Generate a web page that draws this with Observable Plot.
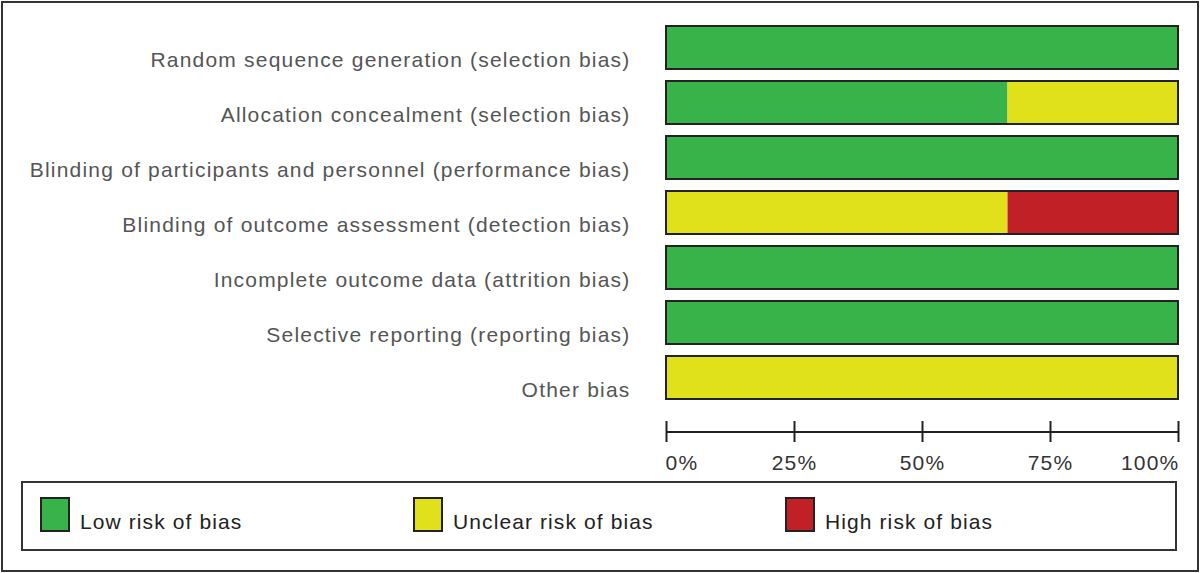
<!DOCTYPE html>
<html>
<head>
<meta charset="utf-8">
<script src="https://cdn.jsdelivr.net/npm/d3@7"></script>
<script src="https://cdn.jsdelivr.net/npm/@observablehq/plot@0.6"></script>
<style>
  html, body { margin: 0; padding: 0; background: #fff; }
  #frame { position: absolute; left: 1px; top: 1px; width: 1194px; height: 567px; border: 2px solid #333; }
  #chart, #axis { position: absolute; left: 0; top: 0; }
  #legend { position: absolute; left: 21px; top: 481px; width: 1152px; height: 66px; border: 2px solid #333; font-family: "Liberation Sans", Arial, sans-serif; font-size: 21px; letter-spacing: 1.1px; color: #222; }
  .sw { position: absolute; top: 14px; width: 26px; height: 31px; border: 2px solid #222; }
  .lt { position: absolute; top: 28px; line-height: 21px; white-space: nowrap; }
</style>
</head>
<body>
<div id="frame"></div>
<div id="chart"></div>
<div id="axis"></div>
<div id="legend"></div>
<script>
const categories = [
  "Random sequence generation (selection bias)",
  "Allocation concealment (selection bias)",
  "Blinding of participants and personnel (performance bias)",
  "Blinding of outcome assessment (detection bias)",
  "Incomplete outcome data (attrition bias)",
  "Selective reporting (reporting bias)",
  "Other bias"
];
const lowRisk     = [100, 66.7, 100, 0,    100, 100, 0];
const unclearRisk = [0,   33.3, 0,   66.7, 0,   0,   100];
const highRisk    = [0,   0,    0,   33.3, 0,   0,   0];
const riskLevels = ["Low risk of bias", "Unclear risk of bias", "High risk of bias"];
const riskColors = ["#37b34a", "#e1e11b", "#c12027"];
const tickValues = [0, 25, 50, 75, 100];
const tickLabels = ["0%", "25%", "50%", "75%", "100%"];

const rows = [];
categories.forEach((c, i) => {
  [lowRisk, unclearRisk, highRisk].forEach((arr, k) => {
    rows.push({category: c, level: riskLevels[k], value: arr[i]});
  });
});
const totals = categories.map(c => ({category: c, value: 100}));
const last = tickValues.length - 1;
const ticks = tickValues.map((v, i) => ({v, i, label: tickLabels[i]}));

const font = "'Liberation Sans', Arial, sans-serif";

const common = {
  width: 1200,
  height: 480,
  marginLeft: 666,
  marginRight: 22,
  marginTop: 0,
  marginBottom: 0,
  style: {fontFamily: font, background: "transparent"},
  x: {domain: [0, 100], axis: null}
};

const chart = Plot.plot({
  ...common,
  y: {domain: categories, range: [23, 402], paddingInner: 0.225, paddingOuter: 0, axis: null},
  color: {domain: riskLevels, range: riskColors},
  marks: [
    Plot.barX(rows, Plot.stackX({x: "value", y: "category", fill: "level", order: riskLevels, inset: 0})),
    Plot.barX(totals, {x1: 0, x2: "value", y: "category", fill: "none", stroke: "#222", strokeWidth: 2, inset: 0}),
    Plot.text(categories, {x: 0, y: d => d, text: d => d, textAnchor: "end", dx: -36, dy: 12, fontSize: 21, fill: "#555", fontFamily: font})
  ]
});

// x axis drawn in a second, overlaid plot whose y scale is identity (pixels)
const tickText = {x: "v", y: 463, text: "label", fontSize: 21, fill: "#333", fontFamily: font};
const axis = Plot.plot({
  ...common,
  y: {type: "identity", axis: null},
  marks: [
    Plot.ruleY([431.5], {x1: 0, x2: 100, stroke: "#222", strokeWidth: 2}),
    Plot.ruleX(ticks, {x: "v", y1: 421, y2: 442, stroke: "#222", strokeWidth: 2}),
    Plot.text(ticks, {...tickText, filter: d => d.i === 0, textAnchor: "start", dx: -1}),
    Plot.text(ticks, {...tickText, filter: d => d.i > 0 && d.i < last, textAnchor: "middle"}),
    Plot.text(ticks, {...tickText, filter: d => d.i === last, textAnchor: "end", dx: 1})
  ]
});

[chart, axis].forEach(svg => d3.select(svg).selectAll("text").style("letter-spacing", "1.2px"));
document.getElementById("chart").append(chart);
document.getElementById("axis").append(axis);

const legend = document.getElementById("legend");
const legendX = [17, 390, 762];
riskLevels.forEach((lvl, i) => {
  const sw = document.createElement("div");
  sw.className = "sw";
  sw.style.left = legendX[i] + "px";
  sw.style.background = riskColors[i];
  const t = document.createElement("div");
  t.className = "lt";
  t.style.left = (legendX[i] + 40) + "px";
  t.textContent = lvl;
  legend.append(sw, t);
});
</script>
</body>
</html>
